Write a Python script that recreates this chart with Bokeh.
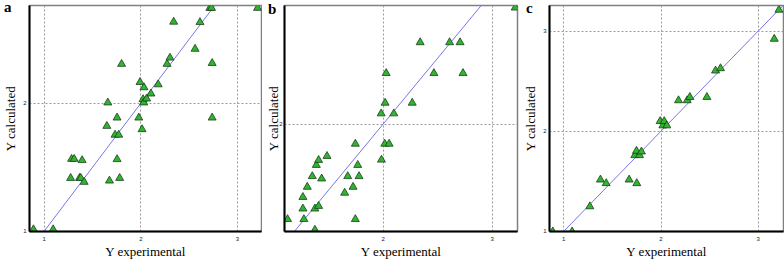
from bokeh.plotting import figure
from bokeh.models import Range1d, FixedTicker, Div, GridBox
from bokeh.embed import file_html
from bokeh.resources import INLINE

# ---- data ----
a_exp = [0.888, 1.092, 1.273, 1.283, 1.310, 1.365, 1.378, 1.392, 1.413, 1.658, 1.648, 1.675,
         1.733, 1.771, 1.754, 1.754, 1.781, 1.801, 1.979, 2.013, 1.992, 2.033, 2.023, 2.030,
         2.060, 2.105, 2.180, 2.272, 2.302, 2.340, 2.562, 2.613, 2.715, 2.732, 2.739, 2.739, 3.209]
a_calc = [1.013, 1.013, 1.415, 1.564, 1.564, 1.415, 1.415, 1.554, 1.384, 2.005, 1.822, 1.394,
          1.753, 1.753, 1.887, 1.562, 1.415, 2.307, 1.887, 1.796, 2.165, 2.124, 2.031, 2.005,
          2.036, 2.075, 2.147, 2.307, 2.356, 2.637, 2.425, 2.634, 2.745, 2.745, 2.314, 1.887, 2.745]

b_exp = [1.123, 1.264, 1.264, 1.273, 1.304, 1.350, 1.374, 1.374, 1.387, 1.408, 1.408, 1.436,
         1.485, 1.647, 1.675, 1.724, 1.745, 1.745, 1.767, 1.779, 1.985, 1.982, 2.018, 2.028,
         2.015, 2.055, 2.098, 2.267, 2.340, 2.466, 2.610, 2.706, 2.733, 3.212]
b_calc = [1.278, 1.358, 1.446, 1.278, 1.523, 1.604, 1.358, 1.197, 1.689, 1.727, 1.378, 1.586,
          1.757, 1.478, 1.604, 1.523, 1.850, 1.278, 1.689, 1.604, 1.729, 2.080, 2.161, 2.386,
          1.850, 1.850, 2.080, 2.161, 2.620, 2.386, 2.620, 2.620, 2.386, 2.883]

c_exp = [0.887, 1.086, 1.268, 1.377, 1.436, 1.672, 1.751, 1.731, 1.748, 1.779, 1.799, 1.991,
         2.019, 2.033, 2.060, 2.180, 2.269, 2.297, 2.472, 2.561, 2.612, 3.165, 3.213]
c_calc = [0.997, 0.997, 1.248, 1.515, 1.479, 1.515, 1.479, 1.759, 1.802, 1.759, 1.795, 2.099,
          2.056, 2.099, 2.056, 2.307, 2.307, 2.340, 2.340, 2.604, 2.627, 2.921, 3.211]

ideal = [0.0, 4.0]  # identity line y = x
ticks = [1, 2, 3]
panel_letters = ["a", "b", "c"]
x_title = "Y experimental"
y_title = "Y calculated"


def make_panel(xs, ys, width, xr, yr, mb, ystand):
    left, right, top, bottom = mb
    p = figure(width=width, height=261, output_backend="svg", toolbar_location=None,
               x_range=Range1d(*xr), y_range=Range1d(*yr),
               min_border_left=left, min_border_right=right,
               min_border_top=top, min_border_bottom=bottom)
    p.background_fill_color = "white"
    p.border_fill_color = "white"
    p.outline_line_color = "#808080"
    p.outline_line_width = 1.5
    for ax in (p.xaxis, p.yaxis):
        ax.ticker = FixedTicker(ticks=ticks)
        ax.axis_line_color = "black"
        ax.axis_line_width = 2
        ax.major_tick_line_color = None
        ax.minor_tick_line_color = None
        ax.major_tick_out = 0
        ax.major_tick_in = 0
        ax.major_label_text_font = "Liberation Sans"
        ax.major_label_text_font_size = "6px"
        ax.major_label_text_color = "#222222"
        ax.axis_label_text_font = "Liberation Serif"
        ax.axis_label_text_font_size = "13px"
        ax.axis_label_text_font_style = "normal"
        ax.axis_label_text_color = "black"
    p.xaxis.axis_label = x_title
    p.yaxis.axis_label = y_title
    p.xaxis.major_label_standoff = 5
    p.xaxis.axis_label_standoff = 0
    p.yaxis.major_label_standoff = ystand[0]
    p.yaxis.axis_label_standoff = ystand[1]
    for g in (p.xgrid, p.ygrid):
        g.ticker = FixedTicker(ticks=ticks)
        g.grid_line_color = "#9a9a9a"
        g.grid_line_dash = "2 2"
        g.grid_line_width = 1

    p.line(ideal, ideal, line_color="#7676e6", line_width=1)
    p.scatter(xs, ys, marker="triangle", size=8, fill_color="#2fb52f",
              line_color="#1c3d1c", line_width=0.8)
    return p


def letter_div(text, mtop, mleft):
    return Div(text=text, width=14, height=18, align="start",
               margin=(mtop, 0, 0, mleft),
               styles={"font-family": "Liberation Serif", "font-weight": "bold",
                       "font-size": "15px", "line-height": "15px", "color": "black"})


pa = make_panel(a_exp, a_calc, 262, (0.847, 3.25), (0.997, 2.765), (26, 1, 2, 29), (3, 2))
pb = make_panel(b_exp, b_calc, 258, (1.095, 3.233), (1.185, 2.90), (22, 3, 4, 28), (2, -5))
pc = make_panel(c_exp, c_calc, 264, (0.853, 3.26), (0.998, 3.255), (29, 1, 5, 28), (3, 2))

da = letter_div(panel_letters[0], 0, 4)
db = letter_div(panel_letters[1], 2, 6)
dc = letter_div(panel_letters[2], 1, 6)

layout = GridBox(children=[(pa, 0, 0), (pb, 0, 1), (pc, 0, 2),
                           (da, 0, 0), (db, 0, 1), (dc, 0, 2)], spacing=0)
open("out.html", "w").write(file_html(layout, INLINE))
